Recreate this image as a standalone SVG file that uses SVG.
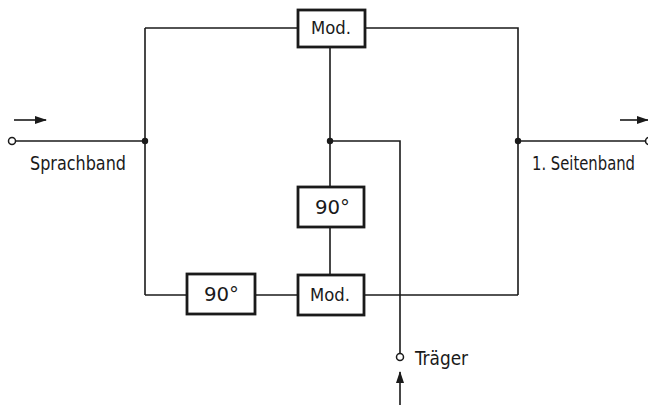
<svg xmlns="http://www.w3.org/2000/svg" width="648" height="405" viewBox="0 0 648 405">
<style>
.w{fill:none;stroke:#1a1a1a;stroke-width:1.6}
.b{fill:#fff;stroke:#1a1a1a;stroke-width:2.8}
.t{font-family:"DejaVu Sans Condensed","Liberation Sans",sans-serif;font-size:19px;fill:#1a1a1a}
.m{font-size:17px}
.d{fill:#1a1a1a}
.o{fill:#fff;stroke:#1a1a1a;stroke-width:1.5}
</style>
<defs>
<marker id="ah" markerWidth="12" markerHeight="8" refX="11" refY="4" orient="auto" markerUnits="userSpaceOnUse">
<path d="M0,0 L12,4 L0,8 Z" fill="#1a1a1a"/>
</marker>
</defs>
<g id="connectors">
<path class="w" d="M16,141 H145"/>
<path class="w" d="M145,28 V295"/>
<path class="w" d="M145,28 H298"/>
<path class="w" d="M366,28 H518 V295"/>
<path class="w" d="M518,141 H646"/>
<path class="w" d="M330,47 V187"/>
<path class="w" d="M330,227 V274"/>
<path class="w" d="M330,141 H400 V353"/>
<path class="w" d="M145,295 H187"/>
<path class="w" d="M255,295 H298"/>
<path class="w" d="M364,295 H518"/>
<circle class="d" cx="145" cy="141" r="3.2"/>
<circle class="d" cx="330" cy="141" r="3.2"/>
<circle class="d" cx="518" cy="141" r="3.2"/>
<circle class="o" cx="12" cy="141" r="3.5"/>
<circle class="o" cx="649" cy="141" r="3.5"/>
<circle class="o" cx="400" cy="357" r="3.5"/>
<path class="w" d="M14,120 H46" marker-end="url(#ah)"/>
<path class="w" d="M620,120 H648" marker-end="url(#ah)"/>
<path class="w" d="M400,405 V372" marker-end="url(#ah)"/>
</g>
<g id="mod1">
<rect class="b" x="298" y="10" width="67" height="37"/>
<text class="t m" x="311" y="34" textLength="40" lengthAdjust="spacingAndGlyphs">Mod.</text>
</g>
<g id="phase1">
<rect class="b" x="298" y="187" width="66" height="40"/>
<text class="t" x="315" y="214" textLength="35" lengthAdjust="spacingAndGlyphs">90°</text>
</g>
<g id="mod2">
<rect class="b" x="298" y="275" width="66" height="40"/>
<text class="t m" x="310" y="301" textLength="40" lengthAdjust="spacingAndGlyphs">Mod.</text>
</g>
<g id="phase2">
<rect class="b" x="187" y="274" width="68" height="40"/>
<text class="t" x="204" y="301" textLength="35" lengthAdjust="spacingAndGlyphs">90°</text>
</g>
<g id="labels">
<text class="t" x="30" y="170" font-size="20" textLength="96" lengthAdjust="spacingAndGlyphs">Sprachband</text>
<text class="t" x="635" y="170" font-size="18" text-anchor="end" textLength="103" lengthAdjust="spacingAndGlyphs">1. Seitenband</text>
<text class="t" x="415" y="365" textLength="53" lengthAdjust="spacingAndGlyphs">Träger</text>
</g>
</svg>
